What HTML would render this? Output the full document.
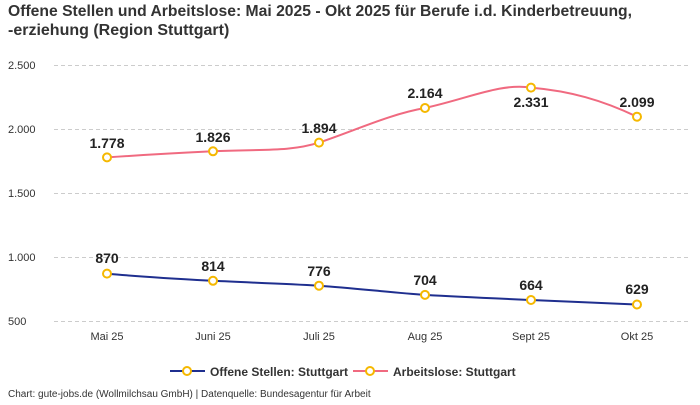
<!DOCTYPE html>
<html><head><meta charset="utf-8"><style>
body{margin:0;background:#fff;width:700px;height:400px;overflow:hidden;font-family:"Liberation Sans",sans-serif}
</style></head><body>
<svg width="700" height="400" xmlns="http://www.w3.org/2000/svg" font-family="Liberation Sans, sans-serif">
<text x="8" y="16" font-size="16" font-weight="bold" fill="#333" textLength="624" lengthAdjust="spacingAndGlyphs">Offene Stellen und Arbeitslose: Mai 2025 - Okt 2025 für Berufe i.d. Kinderbetreuung,</text>
<text x="8" y="35" font-size="16" font-weight="bold" fill="#333">-erziehung (Region Stuttgart)</text>
<g stroke="#ccc" stroke-dasharray="4,3" stroke-width="1">
<line x1="54" x2="690" y1="65.5" y2="65.5"/><line x1="54" x2="690" y1="129.5" y2="129.5"/>
<line x1="54" x2="690" y1="193.5" y2="193.5"/><line x1="54" x2="690" y1="257.5" y2="257.5"/>
<line x1="54" x2="690" y1="321.5" y2="321.5"/>
</g>
<g font-size="11" fill="#333">
<text x="8" y="69">2.500</text><text x="8" y="133">2.000</text><text x="8" y="197">1.500</text>
<text x="8" y="261">1.000</text><text x="8" y="325">500</text>
</g>
<g font-size="11" fill="#333" text-anchor="middle">
<text x="107" y="340">Mai 25</text><text x="213" y="340">Juni 25</text><text x="319" y="340">Juli 25</text>
<text x="425" y="340">Aug 25</text><text x="531" y="340">Sept 25</text><text x="637" y="340">Okt 25</text>
</g>
<path d="M107,273.6 C142,277 178,278.9 213,280.8 C248,282.5 284,283.6 319,285.7 C354,288 390,292.5 425,294.9 C460,297 496,298.5 531,300 C566,301.5 602,303 637,304.5" fill="none" stroke="#1f2f8f" stroke-width="2"/>
<path d="M107,157.4 C142,155 178,153 213,151.3 C260,149 290,152 319,142.6 C354,131 390,114 425,108 C470,98 500,83 531,87.6 C570,91 602,100 637,116.7" fill="none" stroke="#f06a80" stroke-width="2"/>
<g fill="#fff" stroke="#f5b800" stroke-width="2">
<circle cx="107" cy="273.6" r="4"/><circle cx="213" cy="280.8" r="4"/><circle cx="319" cy="285.7" r="4"/>
<circle cx="425" cy="294.9" r="4"/><circle cx="531" cy="300" r="4"/><circle cx="637" cy="304.5" r="4"/>
<circle cx="107" cy="157.4" r="4"/><circle cx="213" cy="151.3" r="4"/><circle cx="319" cy="142.6" r="4"/>
<circle cx="425" cy="108" r="4"/><circle cx="531" cy="87.6" r="4"/><circle cx="637" cy="116.7" r="4"/>
</g>
<g font-size="14" font-weight="bold" fill="#222" text-anchor="middle">
<text x="107" y="263">870</text><text x="213" y="271">814</text><text x="319" y="276">776</text>
<text x="425" y="285">704</text><text x="531" y="290">664</text><text x="637" y="294">629</text>
<text x="107" y="148">1.778</text><text x="213" y="142">1.826</text><text x="319" y="133">1.894</text>
<text x="425" y="98">2.164</text><text x="531" y="107">2.331</text><text x="637" y="107">2.099</text>
</g>
<line x1="170" x2="205" y1="371" y2="371" stroke="#1f2f8f" stroke-width="2"/>
<circle cx="187" cy="371" r="4" fill="#fff" stroke="#f5b800" stroke-width="2"/>
<text x="210" y="376" font-size="12" font-weight="bold" fill="#333">Offene Stellen: Stuttgart</text>
<line x1="353" x2="388" y1="371" y2="371" stroke="#f06a80" stroke-width="2"/>
<circle cx="370" cy="371" r="4" fill="#fff" stroke="#f5b800" stroke-width="2"/>
<text x="393" y="376" font-size="12" font-weight="bold" fill="#333">Arbeitslose: Stuttgart</text>
<text x="8" y="397" font-size="10" fill="#333">Chart: gute-jobs.de (Wollmilchsau GmbH) | Datenquelle: Bundesagentur für Arbeit</text>
</svg>
</body></html>
